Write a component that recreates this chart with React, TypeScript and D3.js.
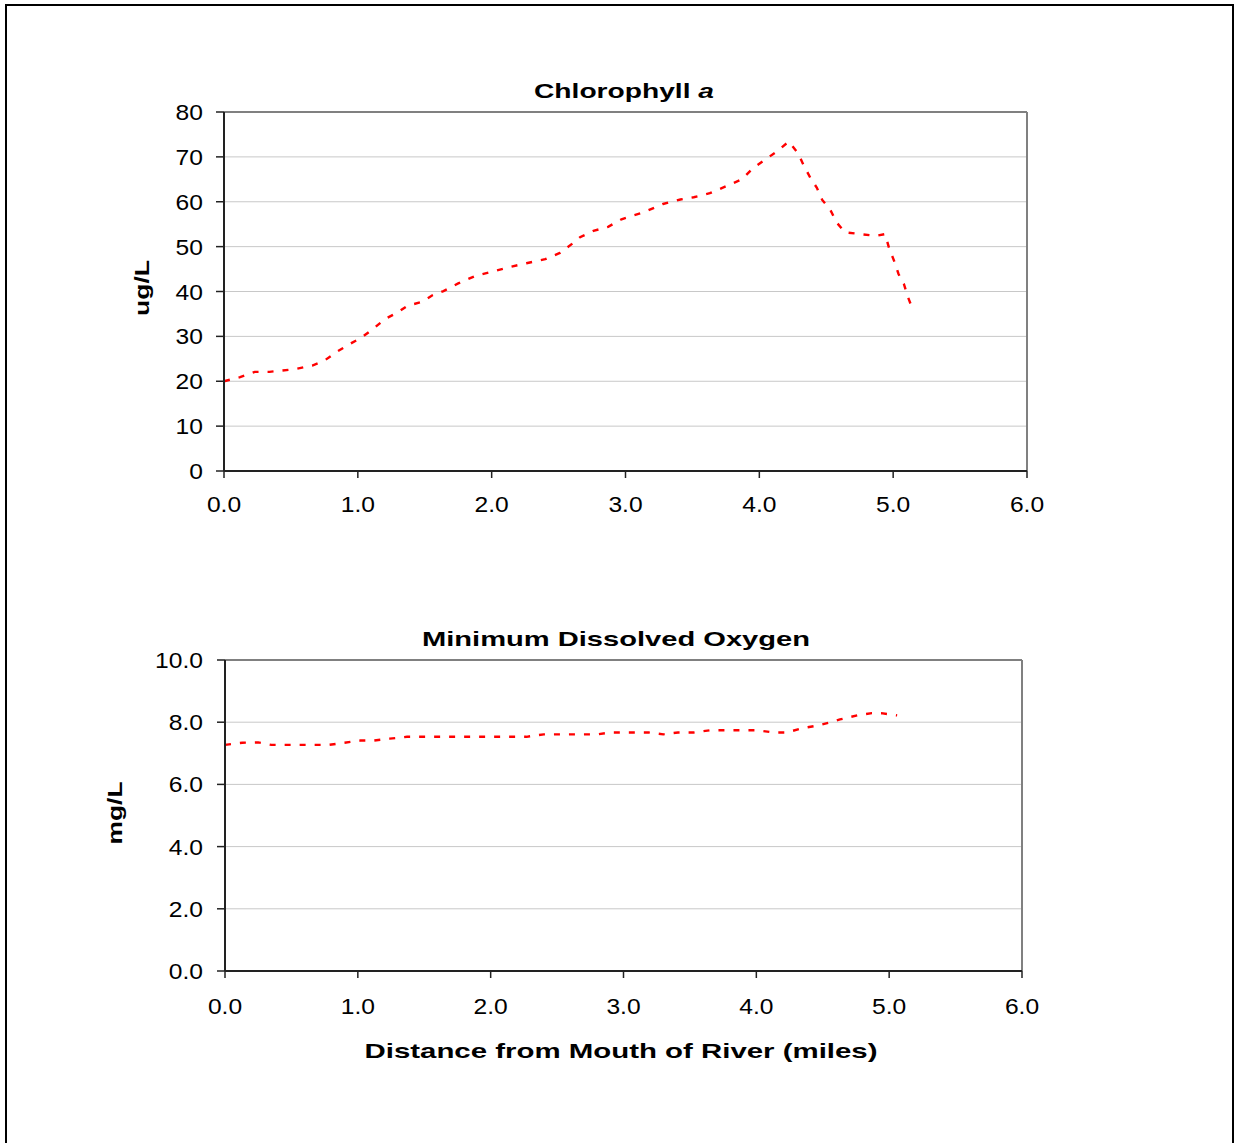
import React from "react";
import * as d3 from "d3";

const chlDist = [0, 0.12, 0.23, 0.34, 0.53, 0.66, 0.75, 0.85, 0.94, 1.03, 1.12, 1.2, 1.3, 1.37, 1.48, 1.56, 1.64, 1.75, 1.88, 2.0, 2.14, 2.26, 2.4, 2.51, 2.6, 2.66, 2.76, 2.87, 2.97, 3.13, 3.28, 3.41, 3.51, 3.63, 3.77, 3.87, 3.95, 4.03, 4.13, 4.22, 4.29, 4.33, 4.38, 4.43, 4.47, 4.53, 4.58, 4.64, 4.75, 4.87, 4.94, 4.97, 5.01, 5.04, 5.08, 5.11, 5.15];
const chlVals = [20, 20.9, 22.1, 22.1, 22.7, 23.5, 24.6, 26.7, 28.3, 29.8, 31.8, 33.8, 35.4, 36.8, 37.7, 39.2, 40.1, 41.8, 43.5, 44.4, 45.5, 46.3, 47.2, 48.6, 50.6, 52.1, 53.5, 54.4, 56.1, 57.6, 59.5, 60.5, 61.0, 61.9, 63.7, 65.0, 67.4, 69.1, 71.2, 73.4, 70.8, 68.2, 65.4, 63.1, 60.4, 58.2, 55.3, 53.2, 52.8, 52.4, 52.8, 49.6, 46.6, 43.9, 41.7, 38.8, 35.7];

const doDist = [0, 0.13, 0.25, 0.35, 0.48, 0.55, 0.66, 0.78, 0.9, 1.02, 1.12, 1.24, 1.37, 1.49, 1.62, 1.78, 1.89, 2.01, 2.15, 2.27, 2.4, 2.56, 2.69, 2.8, 2.91, 3.1, 3.19, 3.3, 3.41, 3.53, 3.65, 3.8, 3.9, 4.01, 4.13, 4.23, 4.35, 4.47, 4.58, 4.63, 4.76, 4.87, 4.94, 5.06];
const doVals = [7.27, 7.34, 7.35, 7.27, 7.27, 7.27, 7.27, 7.27, 7.34, 7.41, 7.41, 7.47, 7.53, 7.53, 7.53, 7.53, 7.53, 7.53, 7.53, 7.53, 7.61, 7.61, 7.61, 7.61, 7.67, 7.67, 7.67, 7.61, 7.67, 7.67, 7.74, 7.74, 7.74, 7.74, 7.67, 7.67, 7.81, 7.9, 8.02, 8.09, 8.22, 8.29, 8.29, 8.22];

const xTicks = [0, 1, 2, 3, 4, 5, 6];
const chlTicks = [0, 10, 20, 30, 40, 50, 60, 70, 80];
const doTicks = [0, 2, 4, 6, 8, 10];

const FONT = "'Liberation Sans', Arial, sans-serif";

function SText({ x, y, anchor = "middle", sx = 1.12, size = 22, weight = "normal", children }: any) {
  return (
    <text
      transform={`translate(${x},${y}) scale(${sx},1)`}
      textAnchor={anchor}
      fontFamily={FONT}
      fontSize={size}
      fontWeight={weight}
      fill="#000"
    >
      {children}
    </text>
  );
}

function Panel({ dist, vals, yTicks, yMax, yFmt, box, title, yTitle, yTitlePos, titlePos, xLabelY }: any) {
  const [x0, x1, yTop, yBot] = box;
  const x = d3.scaleLinear().domain([0, 6]).range([x0, x1]);
  const y = d3.scaleLinear().domain([0, yMax]).range([yBot, yTop]);
  const pts = dist.map((d: number, i: number) => [d, vals[i]]);
  const line = d3.line<number[]>().x((p) => x(p[0])).y((p) => y(p[1]));
  const fx = d3.format(".1f");
  return (
    <g>
      {yTicks.map((t: number) => (
        <line key={"g" + t} x1={x0} x2={x1} y1={y(t)} y2={y(t)} stroke="#c8c8c8" strokeWidth={1} />
      ))}
      <line x1={x0} x2={x1} y1={yTop} y2={yTop} stroke="#808080" strokeWidth={2} />
      <line x1={x1} x2={x1} y1={yTop} y2={yBot} stroke="#808080" strokeWidth={2} />
      <path d={line(pts) || ""} fill="none" stroke="#ff0000" strokeWidth={2.4} strokeDasharray="6,9" />
      <line x1={x0} x2={x0} y1={yTop} y2={yBot} stroke="#222" strokeWidth={2} />
      <line x1={x0} x2={x1} y1={yBot} y2={yBot} stroke="#222" strokeWidth={2} />
      {yTicks.map((t: number) => (
        <g key={"y" + t}>
          <line x1={x0 - 8} x2={x0} y1={y(t)} y2={y(t)} stroke="#222" strokeWidth={1.5} />
          <SText x={203} y={y(t) + 8} anchor="end">{yFmt(t)}</SText>
        </g>
      ))}
      {xTicks.map((t: number) => (
        <g key={"x" + t}>
          <line x1={x(t)} x2={x(t)} y1={yBot} y2={yBot + 7} stroke="#222" strokeWidth={1.5} />
          <SText x={x(t)} y={xLabelY}>{fx(t)}</SText>
        </g>
      ))}
      <text
        x={titlePos[0]}
        y={titlePos[1]}
        textAnchor="middle"
        fontFamily={FONT}
        fontSize={21}
        fontWeight="bold"
        textLength={titlePos[2]}
        lengthAdjust="spacingAndGlyphs"
      >
        {title}
      </text>
      <text
        transform={`translate(${yTitlePos[0]},${yTitlePos[1]}) rotate(-90)`}
        textAnchor="middle"
        fontFamily={FONT}
        fontSize={21}
        fontWeight="bold"
        textLength={yTitlePos[2]}
        lengthAdjust="spacingAndGlyphs"
      >
        {yTitle}
      </text>
    </g>
  );
}

export default function App() {
  return (
    <div style={{ position: "absolute", left: 0, top: 0 }}>
      <svg width={1235} height={1143} style={{ display: "block", background: "#fff" }}>
        <rect x={6} y={5} width={1227} height={1200} fill="none" stroke="#000" strokeWidth={2} />
        <Panel
          dist={chlDist}
          vals={chlVals}
          yTicks={chlTicks}
          yMax={80}
          yFmt={d3.format("d")}
          box={[224, 1027, 112, 471]}
          title={<>Chlorophyll <tspan fontStyle="italic">a</tspan></>}
          titlePos={[624, 98, 180]}
          yTitle="ug/L"
          yTitlePos={[149, 288, 56]}
          xLabelY={512}
        />
        <Panel
          dist={doDist}
          vals={doVals}
          yTicks={doTicks}
          yMax={10}
          yFmt={d3.format(".1f")}
          box={[225, 1022, 660, 971]}
          title="Minimum Dissolved Oxygen"
          titlePos={[616, 646, 388]}
          yTitle="mg/L"
          yTitlePos={[122, 813, 63]}
          xLabelY={1014}
        />
        <text
          x={621}
          y={1058}
          textAnchor="middle"
          fontFamily={FONT}
          fontSize={21}
          fontWeight="bold"
          textLength={513}
          lengthAdjust="spacingAndGlyphs"
        >
          Distance from Mouth of River (miles)
        </text>
      </svg>
    </div>
  );
}
